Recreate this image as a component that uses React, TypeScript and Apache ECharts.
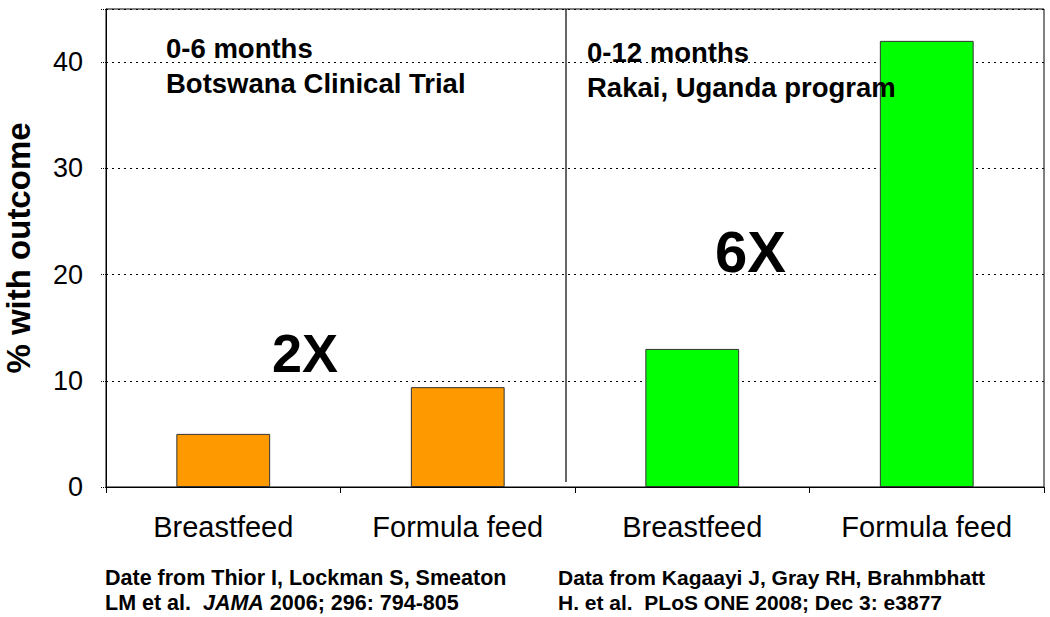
import React, { useEffect, useRef } from "react";
import * as echarts from "echarts";

const categories = ["Breastfeed", "Formula feed", "Breastfeed ", "Formula feed "];
const values = [5, 9.4, 13, 42];
const barColors = ["#FF9900", "#FF9900", "#00FF00", "#00FF00"];
const yTicks = [0, 10, 20, 30, 40];
const leftNote = ["0-6 months", "Botswana Clinical Trial"];
const rightNote = ["0-12 months", "Rakai, Uganda program"];
const leftRef = ["Date from Thior I, Lockman S, Smeaton", "LM et al.  ", "JAMA", " 2006; 296: 794-805"];
const rightRef = ["Data from Kagaayi J, Gray RH, Brahmbhatt", "H. et al.  PLoS ONE 2008; Dec 3: e3877"];

export default function App() {
  const ref = useRef<HTMLDivElement>(null);
  useEffect(() => {
    const chart = echarts.init(ref.current!, null, { renderer: "svg" });
    const font = "Liberation Sans, Arial, sans-serif";
    const txt = (left: number, top: number, text: string, size: number, lh?: number) => ({
      type: "text", left, top, z: 100,
      style: { text, fontSize: size, fontWeight: "bold", fontFamily: font, fill: "#000", lineHeight: lh },
    });
    chart.setOption({
      animation: false,
      backgroundColor: "#fff",
      grid: {
        left: 106, top: 9, right: 6, bottom: 130, show: true, borderColor: "#000", borderWidth: 1,
        containLabel: false, outerBoundsMode: "none",
      },
      xAxis: {
        type: "category",
        data: categories,
        axisLine: { lineStyle: { color: "#000", width: 1 } },
        axisTick: { show: true, length: 6, lineStyle: { color: "#000" } },
        axisLabel: { color: "#000", fontSize: 29, fontFamily: font, margin: 25, formatter: (v: string) => v.trim() },
      },
      yAxis: {
        type: "value",
        min: 0,
        max: 45,
        interval: 10,
        name: "% with outcome",
        nameLocation: "middle",
        nameGap: 71,
        nameTextStyle: { color: "#000", fontSize: 33, fontWeight: "bold", fontFamily: font },
        axisLine: { show: true, lineStyle: { color: "#000" } },
        axisTick: { show: true, length: 6, lineStyle: { color: "#000", type: "dotted" } },
        axisLabel: {
          color: "#000", fontSize: 27, fontFamily: font, margin: 23,
          formatter: (v: number) => (yTicks.includes(v) ? String(v) : ""),
        },
        splitLine: { show: true, lineStyle: { color: "#000", type: [2, 4], width: 1 } },
      },
      series: [
        {
          type: "bar",
          barWidth: "40%",
          data: values.map((v, i) => ({ value: v, itemStyle: { color: barColors[i] } })),
          itemStyle: { borderColor: "#333", borderWidth: 1 },
        },
      ],
      graphic: [
        { type: "line", z: 100, shape: { x1: 566, y1: 9, x2: 566, y2: 482 }, style: { stroke: "#000", lineWidth: 1.2 } },
        txt(166, 31, leftNote.join("\n"), 27.5, 35),
        txt(587, 35, rightNote.join("\n"), 27.5, 35),
        txt(272, 326, "2X", 54),
        txt(715, 222, "6X", 58),
        {
          type: "text", left: 105, top: 567, z: 100,
          style: {
            text: `{b|${leftRef[0]}}\n{b|${leftRef[1]}}{i|${leftRef[2]}}{b|${leftRef[3]}}`,
            fill: "#000",
            rich: {
              b: { fontSize: 21.5, fontWeight: "bold", fontFamily: font, lineHeight: 25, fill: "#000" },
              i: { fontSize: 21.5, fontWeight: "bold", fontStyle: "italic", fontFamily: font, lineHeight: 25, fill: "#000" },
            },
          },
        },
        txt(558, 565, rightRef.join("\n"), 21, 25),
      ],
    });
    return () => chart.dispose();
  }, []);
  return <div ref={ref} style={{ width: 1050, height: 617, position: "absolute", left: 0, top: 0 }} />;
}
